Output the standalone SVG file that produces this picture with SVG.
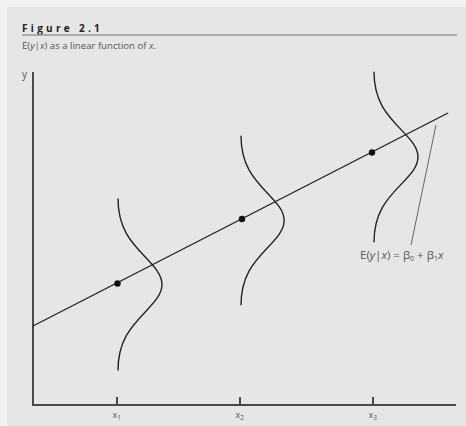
<svg xmlns="http://www.w3.org/2000/svg" width="466" height="426" viewBox="0 0 466 426">
  <defs>
    <style>
      .t { font-family: "Open Sans", "Liberation Sans", sans-serif; fill: #555; }
      .axis { stroke: #4a4a4a; stroke-width: 2; fill: none; }
      .curve { stroke: #222; stroke-width: 1.4; fill: none; }
      .dot { fill: #111; }
    </style>
    <path id="dens" d="M 0,-86 C 0,-56 13.4,-42 26.7,-28 C 36.2,-18 44,-10 44,0 C 44,10 36.2,18 26.7,28 C 13.4,42 0,56 0,86"/>
  </defs>
  <rect x="0" y="0" width="466" height="426" fill="#f1f1f1"/>
  <rect x="7" y="7" width="459" height="419" fill="#e6e6e6"/>

  <g id="header">
    <text x="22" y="32" class="t" font-size="10" font-weight="bold" style="fill:#222" letter-spacing="3.3">Figure 2.1</text>
    <line x1="22" y1="35" x2="457" y2="35" stroke="#9a9a9a" stroke-width="1.5"/>
    <text x="22" y="49" class="t" font-size="9.6">E(<tspan font-style="italic">y</tspan>|<tspan font-style="italic">x</tspan>) as a linear function of <tspan font-style="italic">x</tspan>.</text>
  </g>

  <g id="axes">
    <polyline class="axis" points="33,72 33,405 456,405"/>
    <line x1="117" y1="397" x2="117" y2="405" class="axis" stroke-width="1.2"/>
    <line x1="240" y1="397" x2="240" y2="405" class="axis" stroke-width="1.2"/>
    <line x1="373" y1="397" x2="373" y2="405" class="axis" stroke-width="1.2"/>
    <text x="22" y="78" class="t" font-size="10">y</text>
    <text x="112.5" y="418" class="t" font-size="9">x<tspan font-size="6.5" dy="2">1</tspan></text>
    <text x="235.5" y="418" class="t" font-size="9">x<tspan font-size="6.5" dy="2">2</tspan></text>
    <text x="368.5" y="418" class="t" font-size="9">x<tspan font-size="6.5" dy="2">3</tspan></text>
  </g>

  <g id="densities">
    <use href="#dens" class="curve" transform="translate(118,284.5)"/>
    <use href="#dens" class="curve" transform="translate(241,220.5) scale(0.98,0.985)"/>
    <use href="#dens" class="curve" transform="translate(374,157) scale(1,0.99)"/>
  </g>

  <g id="regression">
    <line x1="33" y1="326" x2="448" y2="113" stroke="#222" stroke-width="1.4"/>
    <circle class="dot" cx="117.5" cy="283.5" r="3.2"/>
    <circle class="dot" cx="242" cy="219" r="3.2"/>
    <circle class="dot" cx="372" cy="152.5" r="3.2"/>
  </g>

  <g id="callout">
    <line x1="436" y1="125" x2="411" y2="245" stroke="#666" stroke-width="1"/>
    <text x="360" y="259" class="t" font-size="11.5">E(<tspan font-style="italic">y</tspan>|<tspan font-style="italic">x</tspan>) = β<tspan font-size="7" dy="2">0</tspan><tspan dy="-2"> + β</tspan><tspan font-size="7" dy="2">1</tspan><tspan dy="-2" font-style="italic">x</tspan></text>
  </g>
</svg>
